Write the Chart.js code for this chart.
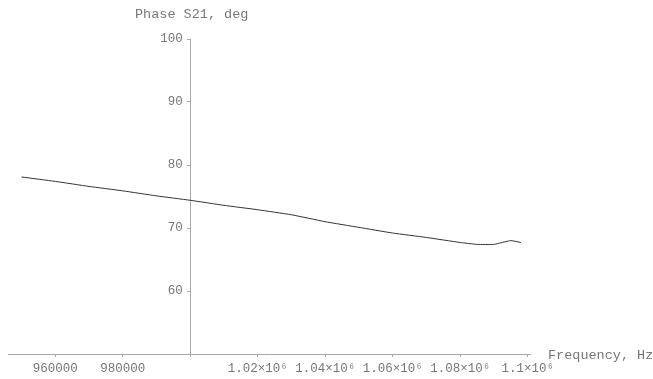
<!DOCTYPE html>
<html>
<head>
<meta charset="utf-8">
<script src="https://cdn.jsdelivr.net/npm/chart.js@4.4.0/dist/chart.umd.min.js"></script>
<style>
  html, body { margin: 0; padding: 0; background: #fff; }
  #wrap { width: 653px; height: 379px; }
</style>
</head>
<body>
<div id="wrap"><canvas id="phaseChart"></canvas></div>
<script>
// S21 phase vs frequency
const frequencies = [950000, 960000, 970000, 980000, 990000, 1000000, 1010000, 1020000, 1030000,
                     1040000, 1050000, 1060000, 1070000, 1080000, 1085000, 1090000, 1095000, 1098000];
const phases = [78.1, 77.4, 76.6, 75.9, 75.1, 74.4, 73.6, 72.9, 72.1,
                71.0, 70.1, 69.2, 68.5, 67.7, 67.4, 67.4, 68.0, 67.7];

const xTicks = [960000, 980000, 1000000, 1020000, 1040000, 1060000, 1080000, 1100000];
const xTickLabels = ['960000', '980000', '', '1.02×10⁶', '1.04×10⁶', '1.06×10⁶', '1.08×10⁶', '1.1×10⁶'];
const yTicks = [50, 60, 70, 80, 90, 100];
const yTickLabels = ['', '60', '70', '80', '90', '100'];

const FONT = "'Liberation Mono', 'DejaVu Sans Mono', monospace";
const TEXT = '#777';
const AXIS = '#a8a8a8';

const axisTitles = {
    id: 'axisTitles',
    afterDraw(chart) {
        const ctx = chart.ctx;
        const { x, y } = chart.scales;
        ctx.save();
        ctx.font = '13.5px ' + FONT;
        ctx.fillStyle = TEXT;
        ctx.textBaseline = 'middle';
        ctx.textAlign = 'left';
        ctx.fillText('Phase S21, deg', 135, y.top - 25);
        ctx.fillText('Frequency, Hz', x.right + 18, y.bottom + 1);
        ctx.restore();
    }
};

new Chart(document.getElementById('phaseChart'), {
    type: 'line',
    data: {
        datasets: [{
            data: frequencies.map((f, i) => ({ x: f, y: phases[i] })),
            borderColor: '#333',
            borderWidth: 1,
            pointRadius: 0,
            fill: false,
            tension: 0.15
        }]
    },
    options: {
        responsive: true,
        maintainAspectRatio: false,
        animation: false,
        layout: { padding: { left: 8, right: 123, top: 39, bottom: 0 } },
        plugins: { legend: { display: false }, tooltip: { enabled: false } },
        scales: {
            x: {
                type: 'linear',
                min: 946000,
                max: 1100700,
                position: 'bottom',
                afterBuildTicks: s => { s.ticks = xTicks.map(v => ({ value: v })); },
                afterFit: s => { s.height = 25; },
                border: { color: AXIS, dash: [1, 1] },
                grid: { drawOnChartArea: false, tickLength: 3, color: AXIS },
                ticks: {
                    autoSkip: false,
                    maxRotation: 0,
                    padding: 4,
                    color: TEXT,
                    font: { family: FONT, size: 12.5 },
                    callback: v => xTickLabels[xTicks.indexOf(v)]
                }
            },
            y: {
                type: 'linear',
                min: 50,
                max: 100,
                position: { x: 1000000 },
                afterBuildTicks: s => { s.ticks = yTicks.map(v => ({ value: v })); },
                afterFit: s => { s.width = 0; },
                border: { color: AXIS, dash: [1, 1] },
                grid: { drawOnChartArea: false, tickLength: 3, color: AXIS },
                ticks: {
                    color: TEXT,
                    font: { family: FONT, size: 12.5 },
                    // trailing space keeps the label clear of the axis line
                    callback: v => yTickLabels[yTicks.indexOf(v)] + ' '
                }
            }
        }
    },
    plugins: [axisTitles]
});
</script>
</body>
</html>
